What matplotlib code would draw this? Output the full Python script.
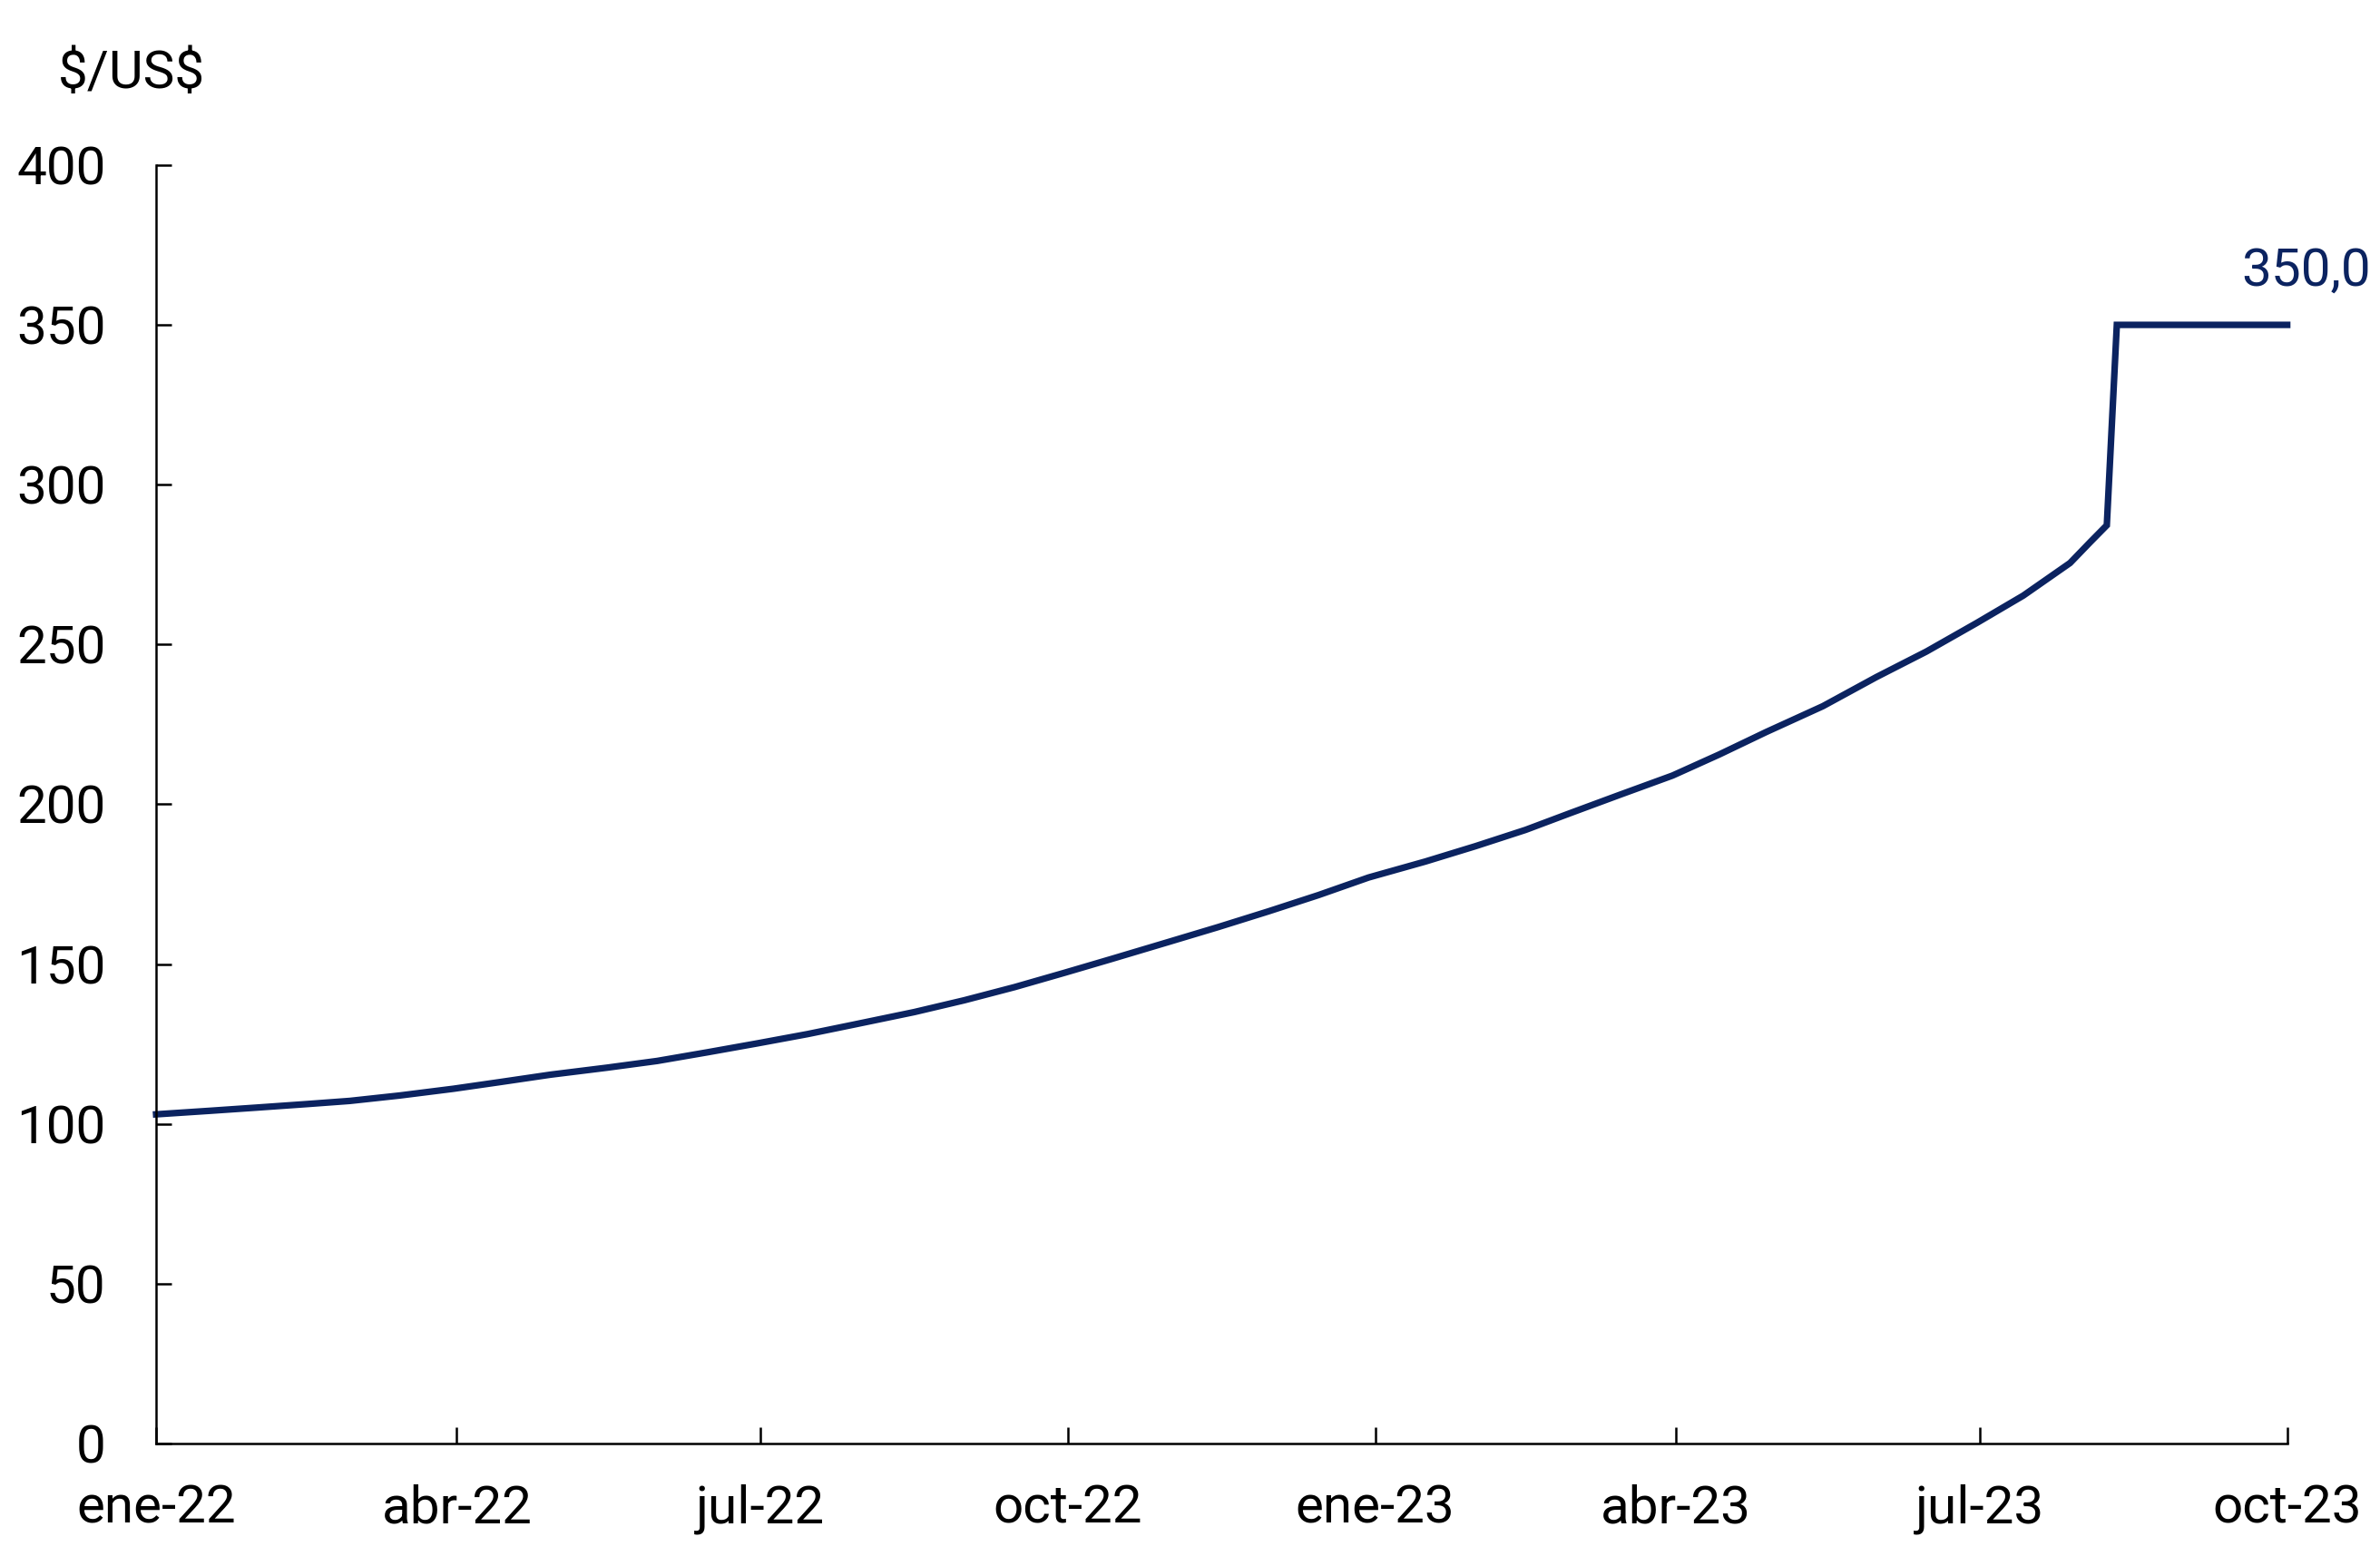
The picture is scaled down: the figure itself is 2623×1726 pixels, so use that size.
import matplotlib
matplotlib.use("Agg")
import matplotlib.pyplot as plt
import pandas as pd

plt.rcParams['font.family'] = ['Roboto', 'DejaVu Sans']

dates = ["2022-01-01", "2022-01-17", "2022-01-31", "2022-02-15", "2022-02-28",
         "2022-03-15", "2022-03-31", "2022-04-14", "2022-04-29", "2022-05-16",
         "2022-05-31", "2022-06-15", "2022-06-30", "2022-07-15", "2022-07-29",
         "2022-08-16", "2022-08-31", "2022-09-15", "2022-09-30", "2022-10-14",
         "2022-10-31", "2022-11-15", "2022-11-30", "2022-12-15", "2022-12-30",
         "2023-01-16", "2023-01-31", "2023-02-15", "2023-02-28", "2023-03-15",
         "2023-03-31", "2023-04-14", "2023-04-28", "2023-05-15", "2023-05-31",
         "2023-06-15", "2023-06-30", "2023-07-14", "2023-07-28", "2023-08-03",
         "2023-08-08", "2023-08-11", "2023-08-31", "2023-09-15", "2023-10-01"]
values = [103.0, 104.1, 105.1, 106.2, 107.2,
          108.9, 111.0, 113.1, 115.4, 117.6,
          119.7, 122.4, 125.2, 128.1, 131.1,
          135.0, 138.7, 142.8, 147.3, 151.6,
          156.9, 161.6, 166.5, 171.6, 177.1,
          182.1, 186.9, 192.0, 197.1, 202.9,
          209.0, 215.6, 222.6, 230.7, 239.8,
          247.8, 256.7, 265.3, 275.5, 282.0,
          287.3, 350.0, 350.0, 350.0, 350.0]

tick_dates = ["2022-01-01", "2022-04-01", "2022-07-01", "2022-10-01",
              "2023-01-01", "2023-04-01", "2023-07-01", "2023-10-01"]
tick_labels = ["ene-22", "abr-22", "jul-22", "oct-22",
               "ene-23", "abr-23", "jul-23", "oct-23"]
y_ticks = [0, 50, 100, 150, 200, 250, 300, 350, 400]

navy = "#0b2360"
fs = 21

x = pd.to_datetime(dates)
xt = pd.to_datetime(tick_dates)

fig = plt.figure(figsize=(2623 / 200, 1726 / 200), dpi=200)
ax = fig.add_axes([0.0656, 0.0782, 0.961 - 0.0656, 0.8946 - 0.0782])

ax.plot(x, values, color=navy, lw=2.6, solid_joinstyle='miter', clip_on=False)

ax.set_xlim(xt[0], xt[-1])
ax.set_ylim(0, 400)
ax.set_yticks(y_ticks)
ax.set_xticks(xt)
ax.set_xticklabels(tick_labels)

for s in ['top', 'right']:
    ax.spines[s].set_visible(False)
for s in ['left', 'bottom']:
    ax.spines[s].set_linewidth(0.9)
    ax.spines[s].set_color('black')

ax.tick_params(axis='y', direction='in', length=6, width=0.9, pad=20, labelsize=fs)
ax.tick_params(axis='x', direction='in', length=6.5, width=0.9, pad=16, labelsize=fs)

ax.annotate("350,0", xy=(x[-1], values[-1]), xytext=(-18, 15.5),
            textcoords='offset points', ha='left', va='baseline',
            color=navy, fontsize=fs, annotation_clip=False)

fig.text(0.0244, 0.944, r"\$/US\$", fontsize=fs, ha='left', va='baseline')

fig.savefig("out.png", dpi=200)
